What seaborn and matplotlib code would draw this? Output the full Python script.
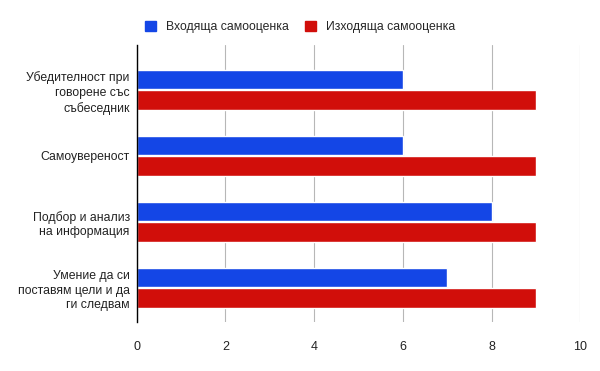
import matplotlib
matplotlib.use("Agg")
import matplotlib.pyplot as plt
import seaborn as sns
import pandas as pd
from matplotlib.patches import Patch

categories = ["Убедителност при\nговорене със\nсъбеседник", "Самоувереност",
              "Подбор и анализ\nна информация", "Умение да си\nпоставям цели и да\nги следвам"]
series_names = ["Входяща самооценка", "Изходяща самооценка"]
incoming = [6, 6, 8, 7]
outgoing = [9, 9, 9, 9]
xticks = [0, 2, 4, 6, 8, 10]
colors = ["#1446e6", "#d10e0a"]

df = pd.DataFrame({
    "cat": categories * 2,
    "val": incoming + outgoing,
    "series": [series_names[0]] * 4 + [series_names[1]] * 4,
})

sns.set_theme(style="white")
plt.rcParams["font.family"] = ["Liberation Sans", "DejaVu Sans"]

fig = plt.figure(figsize=(6, 3.71), dpi=100)
ax = fig.add_axes([0.228, 0.132, 0.739, 0.747])
sns.barplot(data=df, x="val", y="cat", hue="series", palette=colors, orient="h",
            width=0.62, gap=0.06, ax=ax, legend=False, saturation=1)

ax.set_xlim(0, 10)
ax.set_xticks(xticks)
ax.set_xticklabels([str(t) for t in xticks], fontsize=9, color="#222222")
ax.tick_params(axis="y", labelsize=8.8, length=0, pad=5, labelcolor="#222222")
ax.tick_params(axis="x", length=0, pad=14)
for lab in ax.get_yticklabels():
    lab.set_horizontalalignment("right")
    lab.set_multialignment("right")
    lab.set_linespacing(1.3)
ax.grid(axis="x", color="#b7b7b7", linewidth=0.8)
ax.set_axisbelow(True)
for s in ["top", "right", "bottom"]:
    ax.spines[s].set_visible(False)
ax.spines["left"].set_color("#000000")
ax.spines["left"].set_linewidth(1)
ax.set_xlabel("")
ax.set_ylabel("")
ax.set_ylim(3.52, -0.68)

handles = [Patch(facecolor=c, edgecolor=c) for c in colors]
fig.legend(handles, series_names, loc="center", bbox_to_anchor=(0.5, 0.928), ncol=2,
           frameon=False, fontsize=8.8, handlelength=0.9, handleheight=0.9,
           columnspacing=1.3, handletextpad=0.8)

fig.savefig("out.png", dpi=100)
